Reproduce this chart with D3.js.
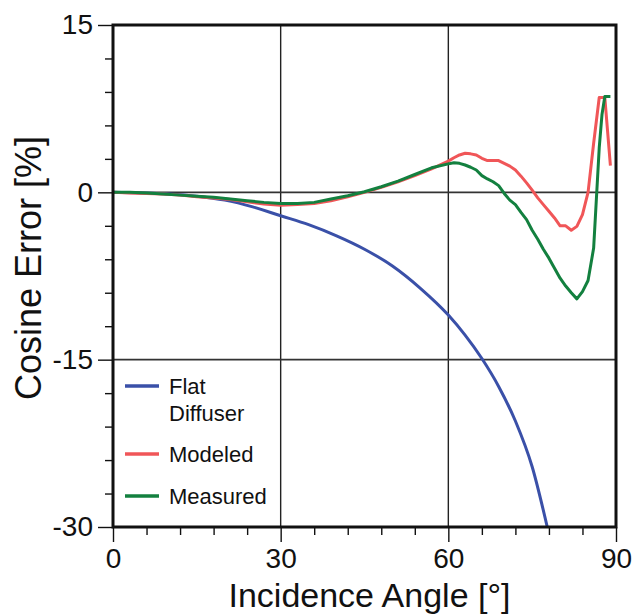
<!DOCTYPE html>
<html><head><meta charset="utf-8">
<script src="https://cdn.jsdelivr.net/npm/d3@7"></script>
<style>body{margin:0;background:#fff}svg{display:block}text{font-family:"Liberation Sans",Arial,Helvetica,sans-serif;fill:#111}</style>
</head><body><div id="chart"></div>
<script>
const xMajorTicks = [0, 30, 60, 90];
const xMinorTicks = [6, 12, 18, 24, 36, 42, 48, 54, 66, 72, 78, 84];
const yMajorTicks = [15, 0, -15, -30];
const yMinorTicks = [12, 9, 6, 3, -3, -6, -9, -12, -18, -21, -24, -27];
const gridX = [30, 60];
const gridY = [0, -15];

const flatAngles = [0, 5, 10, 15, 20, 25, 30, 35, 40, 45, 50, 55, 60, 63, 66, 69, 72, 75, 77.7];
const flatValues = [0, -0.05, -0.15, -0.35, -0.7, -1.3, -2.1, -2.9, -3.9, -5.1, -6.6, -8.6, -11.0, -12.8, -14.9, -17.4, -20.5, -24.6, -30];

const modAngles = [0, 3, 6, 9, 12, 15, 18, 21, 24, 27, 30, 33, 36, 39, 42, 45, 48, 51, 54, 57, 60, 61, 62, 63, 64, 65, 66, 67, 68, 69, 70, 71, 72, 73, 74, 75, 76, 77, 78, 79, 80, 81, 82, 83, 84, 85, 86, 87, 88, 89];
const modValues = [0, -0.05, -0.1, -0.15, -0.25, -0.4, -0.5, -0.65, -0.85, -1.05, -1.15, -1.1, -1.0, -0.75, -0.4, 0.0, 0.45, 0.95, 1.5, 2.1, 2.8, 3.1, 3.35, 3.5, 3.45, 3.35, 3.05, 2.85, 2.85, 2.85, 2.6, 2.35, 2.0, 1.45, 0.85, 0.2, -0.5, -1.1, -1.7, -2.3, -3.0, -3.0, -3.4, -3.05, -2.0, 0.0, 4.4, 8.5, 8.5, 2.4];

const measAngles = [0, 3, 6, 9, 12, 15, 18, 21, 24, 27, 30, 33, 36, 39, 42, 45, 48, 51, 54, 57, 60, 61, 62, 63, 64, 65, 66, 67, 68, 69, 70, 71, 72, 73, 74, 75, 76, 77, 78, 79, 80, 81, 82, 83, 84, 85, 86, 86.5, 87, 87.5, 88, 89];
const measValues = [0, 0, -0.05, -0.15, -0.25, -0.35, -0.45, -0.6, -0.75, -0.9, -1.0, -1.0, -0.9, -0.6, -0.3, 0.05, 0.5, 1.0, 1.6, 2.2, 2.55, 2.65, 2.6, 2.45, 2.25, 2.0, 1.5, 1.2, 0.95, 0.6, -0.1, -0.7, -1.1, -1.8, -2.45, -3.4, -4.2, -5.1, -5.9, -6.8, -7.7, -8.4, -9.0, -9.55, -8.9, -7.9, -5.0, -0.5, 4.0, 7.0, 8.6, 8.6];

const seriesNames = ["Flat\nDiffuser", "Modeled", "Measured"];
const seriesColors = ["#3a50a8", "#f05658", "#13803f"];

const W = 632, H = 614;
const m = {left: 113, right: 16, top: 25, bottom: 87};
const svg = d3.select("#chart").append("svg").attr("width", W).attr("height", H);
const x = d3.scaleLinear().domain([0, 90]).range([m.left, W - m.right]);
const y = d3.scaleLinear().domain([-30, 15]).range([H - m.bottom, m.top]);

svg.append("defs").append("clipPath").attr("id", "clip")
  .append("rect").attr("x", x(0)).attr("y", y(15)).attr("width", x(90) - x(0)).attr("height", y(-30) - y(15));

// gridlines
svg.selectAll(".gx").data(gridX).join("line").attr("x1", d => x(d)).attr("x2", d => x(d))
  .attr("y1", y(15)).attr("y2", y(-30)).attr("stroke", "#222").attr("stroke-width", 1.4);
svg.selectAll(".gy").data(gridY).join("line").attr("y1", d => y(d)).attr("y2", d => y(d))
  .attr("x1", x(0)).attr("x2", x(90)).attr("stroke", "#333").attr("stroke-width", 1.6);

// axes
const fmt = d => String(d);
const xAxisMajor = d3.axisBottom(x).tickValues(xMajorTicks).tickSize(15).tickPadding(6).tickFormat(fmt);
const xAxisMinor = d3.axisBottom(x).tickValues(xMinorTicks).tickSize(8).tickFormat("");
const yAxisMajor = d3.axisLeft(y).tickValues(yMajorTicks).tickSize(15).tickPadding(5).tickFormat(fmt);
const yAxisMinor = d3.axisLeft(y).tickValues(yMinorTicks).tickSize(8).tickFormat("");

function styleAxis(g) {
  g.select(".domain").remove();
  g.selectAll("line").attr("stroke", "#111").attr("stroke-width", 1.4);
  g.selectAll("text").style("font-size", "28px").attr("fill", "#111").style("font-family", '"Liberation Sans", Arial, sans-serif');
}
svg.append("g").attr("transform", `translate(0,${y(-30)})`).call(xAxisMajor).call(styleAxis);
svg.append("g").attr("transform", `translate(0,${y(-30)})`).call(xAxisMinor).call(styleAxis);
svg.append("g").attr("transform", `translate(${x(0)},0)`).call(yAxisMajor).call(styleAxis);
svg.append("g").attr("transform", `translate(${x(0)},0)`).call(yAxisMinor).call(styleAxis);

// data lines
const lineSmooth = d3.line().x(d => x(d[0])).y(d => y(d[1])).curve(d3.curveMonotoneX);
const lineLinear = d3.line().x(d => x(d[0])).y(d => y(d[1]));
const series = [
  d3.zip(flatAngles, flatValues),
  d3.zip(modAngles, modValues),
  d3.zip(measAngles, measValues)
];
const plot = svg.append("g").attr("clip-path", "url(#clip)");
plot.selectAll("path").data(series).join("path")
  .attr("d", (d, i) => i === 0 ? lineSmooth(d) : lineLinear(d)).attr("fill", "none")
  .attr("stroke", (d, i) => seriesColors[i]).attr("stroke-width", 3).attr("stroke-linejoin", "round");

// frame
svg.append("rect").attr("x", x(0)).attr("y", y(15)).attr("width", x(90) - x(0)).attr("height", y(-30) - y(15))
  .attr("fill", "none").attr("stroke", "#111").attr("stroke-width", 3);

// legend
const legY = [386, 454, 496];
const leg = svg.append("g");
seriesNames.forEach((name, i) => {
  leg.append("line").attr("x1", 125).attr("x2", 159).attr("y1", legY[i]).attr("y2", legY[i])
    .attr("stroke", seriesColors[i]).attr("stroke-width", 3.5);
  const t = leg.append("text").attr("x", 169).attr("y", legY[i] + 7.5).style("font-size", "22px");
  name.split("\n").forEach((s, k) => t.append("tspan").attr("x", 169).attr("dy", k ? 27.5 : 0).text(s));
});

// titles
svg.append("text").attr("x", (x(0) + x(90)) / 2 + 5).attr("y", 607).attr("text-anchor", "middle")
  .style("font-size", "34px").text("Incidence Angle [°]");
svg.append("text").attr("transform", `translate(41,${(y(15) + y(-30)) / 2 - 8}) rotate(-90)`).attr("text-anchor", "middle")
  .style("font-size", "36px").text("Cosine Error [%]");
</script></body></html>
